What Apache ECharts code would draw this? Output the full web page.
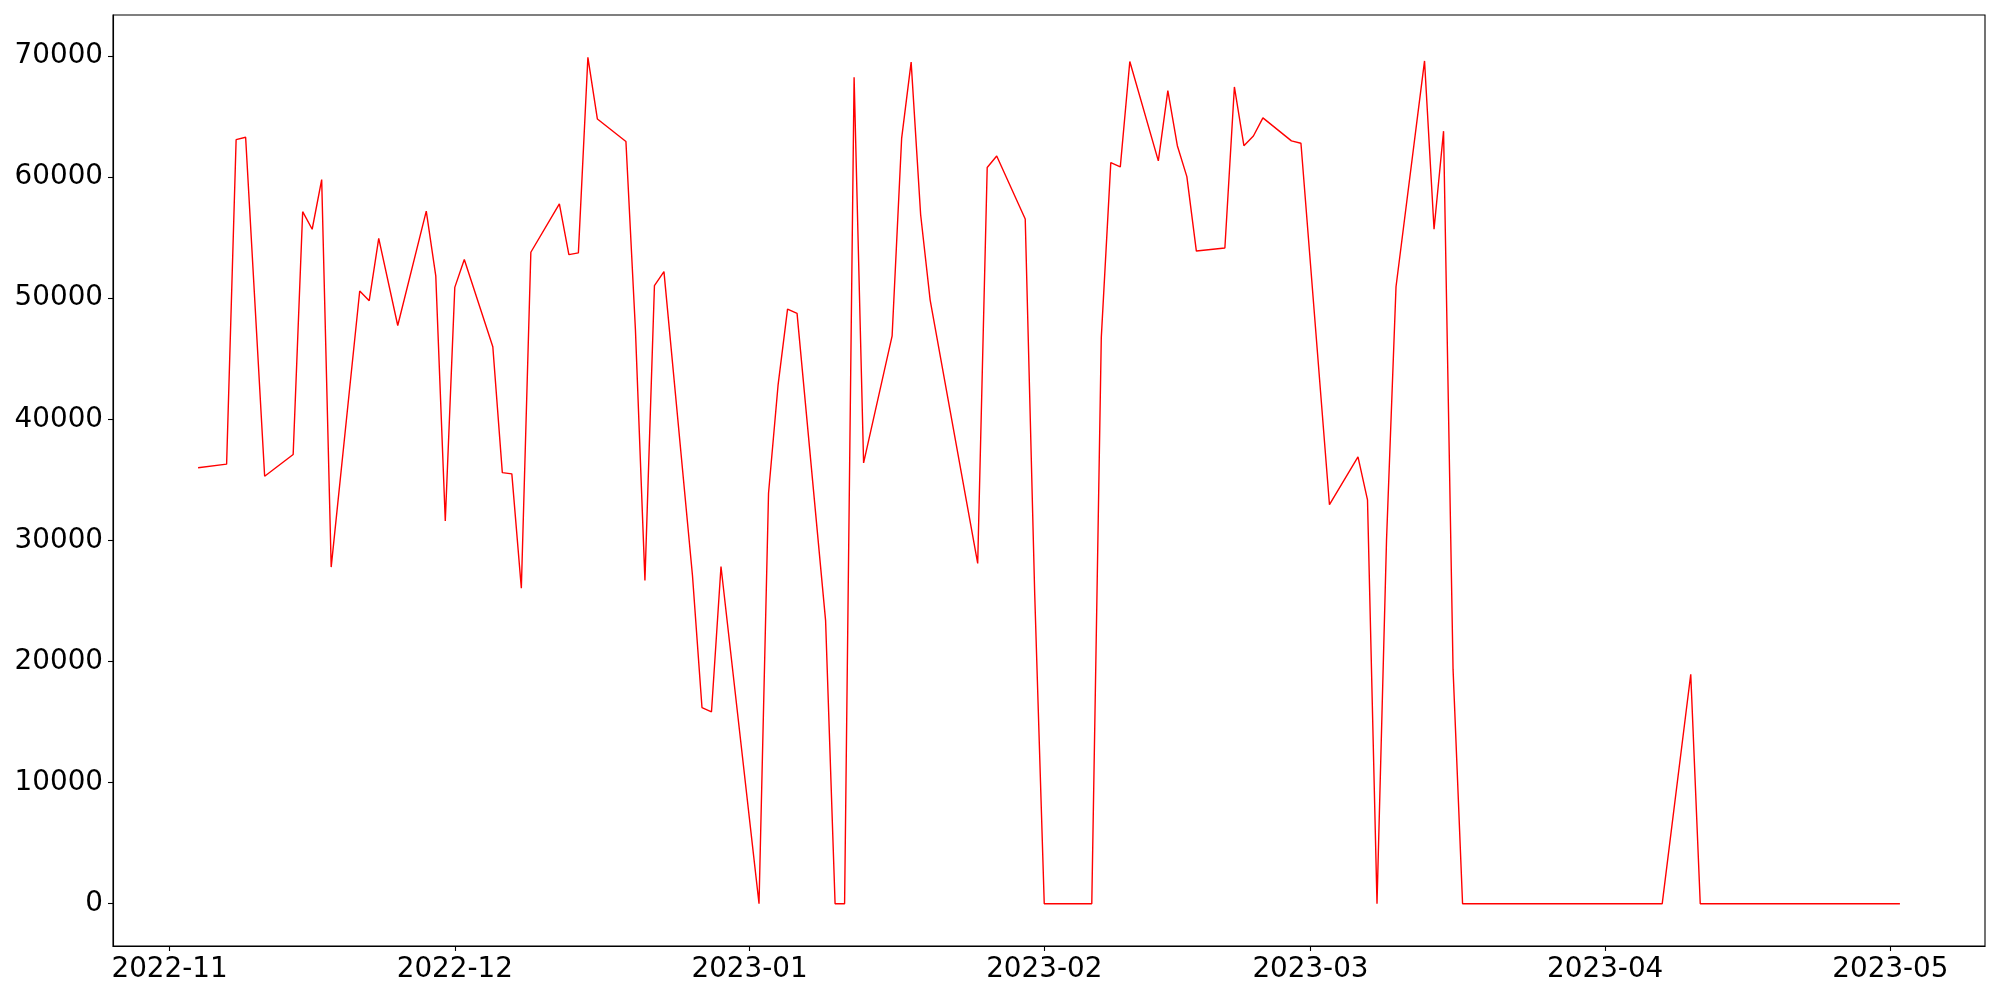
<!DOCTYPE html>
<html>
<head>
<meta charset="utf-8">
<script src="https://cdn.jsdelivr.net/npm/echarts@6/dist/echarts.min.js"></script>
<style>html,body{margin:0;padding:0;background:#fff}#c{width:2000px;height:1000px}</style>
</head>
<body>
<div id="c"></div>
<script>
const dates = [
  '2022-11-04','2022-11-07','2022-11-08','2022-11-09','2022-11-11','2022-11-14','2022-11-15','2022-11-16','2022-11-17','2022-11-18',
  '2022-11-21','2022-11-22','2022-11-23','2022-11-25','2022-11-28','2022-11-29','2022-11-30','2022-12-01','2022-12-02',
  '2022-12-05','2022-12-06','2022-12-07','2022-12-08','2022-12-09','2022-12-12','2022-12-13','2022-12-14','2022-12-15','2022-12-16',
  '2022-12-19','2022-12-20','2022-12-21','2022-12-22','2022-12-23','2022-12-26','2022-12-27','2022-12-28','2022-12-29',
  '2023-01-02','2023-01-03','2023-01-04','2023-01-05','2023-01-06','2023-01-09','2023-01-10','2023-01-11','2023-01-12','2023-01-13',
  '2023-01-16','2023-01-17','2023-01-18','2023-01-19','2023-01-20','2023-01-25','2023-01-26','2023-01-27','2023-01-30','2023-01-31',
  '2023-02-01','2023-02-06','2023-02-07','2023-02-08','2023-02-09','2023-02-10','2023-02-13','2023-02-14','2023-02-15','2023-02-16','2023-02-17',
  '2023-02-20','2023-02-21','2023-02-22','2023-02-23','2023-02-24','2023-02-27','2023-02-28',
  '2023-03-03','2023-03-06','2023-03-07','2023-03-08','2023-03-09','2023-03-10','2023-03-13','2023-03-14','2023-03-15','2023-03-16','2023-03-17',
  '2023-04-07','2023-04-10','2023-04-11','2023-05-02'
];
const values = [
  36000,36300,63100,63300,35300,37100,57150,55700,59800,27800,
  50600,49800,54950,47750,57200,51850,31600,50900,53200,
  46000,35600,35500,26050,53800,57800,53600,53750,69900,64800,
  62950,47400,26700,51050,52200,27100,16200,15850,27850,
  0,33900,42800,49100,48750,23400,0,0,68250,36400,
  46900,63200,69500,56900,49850,28100,60800,61750,56550,25500,
  0,0,46750,61200,60850,69550,61350,67150,62600,60050,53900,
  54150,67450,62600,63400,64900,63000,62800,
  32950,36900,33350,0,30000,50950,69600,55700,63800,19350,0,
  0,18950,0,0
];
const yTicks = [0,10000,20000,30000,40000,50000,60000,70000];
const xTickDates = ['2022-11-01','2022-12-01','2023-01-01','2023-02-01','2023-03-01','2023-04-01','2023-05-01'];

function ts(s){const p=s.split('-').map(Number);return Date.UTC(p[0],p[1]-1,p[2]);}
const xs = dates.map(ts);
const xMin0 = Math.min(...xs), xMax0 = Math.max(...xs);
const xPad = (xMax0 - xMin0) * 0.05;
const yMax0 = Math.max(...values), yMin0 = Math.min(...values);
const yPad = (yMax0 - yMin0) * 0.05;
const xTicks = xTickDates.map(ts);
const font = {fontFamily:'DejaVu Sans', fontSize:27.8, color:'#000'};

const chart = echarts.init(document.getElementById('c'), null, {renderer:'canvas'});
chart.setOption({
  animation: false,
  backgroundColor: '#fff',
  grid: {left:113, right:15, top:15, bottom:54, show:true, borderColor:'#000', borderWidth:1.1, containLabel:false},
  xAxis: {
    type:'value', min: xMin0 - xPad, max: xMax0 + xPad, scale:true,
    axisLine:{show:true, onZero:false, lineStyle:{color:'#000', width:1.1}},
    axisTick:{show:true, inside:false, length:5, customValues: xTicks, lineStyle:{color:'#000', width:1.1}},
    axisLabel:Object.assign({show:true, margin:10, customValues: xTicks, hideOverlap:false,
      formatter:function(v){const d=new Date(v);const m=d.getUTCMonth()+1;return d.getUTCFullYear()+'-'+(m<10?'0':'')+m;}}, font),
    splitLine:{show:false}
  },
  yAxis: {
    type:'value', min: yMin0 - yPad, max: yMax0 + yPad,
    axisLine:{show:true, lineStyle:{color:'#000', width:1.1}},
    axisTick:{show:true, inside:false, length:5, customValues: yTicks, lineStyle:{color:'#000', width:1.1}},
    axisLabel:Object.assign({show:true, margin:10, customValues: yTicks, formatter:function(v){return String(v);}}, font),
    splitLine:{show:false}
  },
  series: [{
    type:'line', showSymbol:false, symbol:'none',
    data: xs.map((x,i)=>[x, values[i]]),
    lineStyle:{color:'#ff0000', width:1.4},
    itemStyle:{color:'#ff0000'}
  }]
});
</script>
</body>
</html>
